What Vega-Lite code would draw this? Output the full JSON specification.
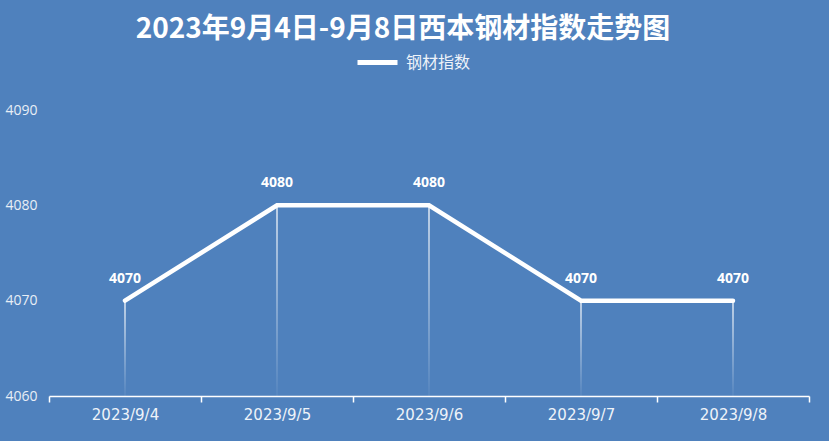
{
  "$schema": "https://vega.github.io/schema/vega-lite/v6.json",
  "autosize": "none",
  "width": 760,
  "height": 286,
  "padding": {"left": 49, "top": 110, "right": 20, "bottom": 45},
  "background": "#4f81bd",
  "title": {
    "text": "2023年9月4日-9月8日西本钢材指数走势图",
    "font": "Noto Sans CJK SC",
    "fontWeight": "bold",
    "fontSize": 28,
    "color": "#ffffff",
    "anchor": "middle",
    "dx": -26,
    "offset": -4
  },
  "data": {
    "values": [
      {"date": "2023/9/4", "value": 4070, "series": "钢材指数"},
      {"date": "2023/9/5", "value": 4080, "series": "钢材指数"},
      {"date": "2023/9/6", "value": 4080, "series": "钢材指数"},
      {"date": "2023/9/7", "value": 4070, "series": "钢材指数"},
      {"date": "2023/9/8", "value": 4070, "series": "钢材指数"}
    ]
  },
  "encoding": {
    "x": {
      "field": "date",
      "type": "ordinal",
      "sort": null,
      "scale": {"type": "band", "paddingInner": 0, "paddingOuter": 0},
      "axis": {
        "title": null,
        "labelAngle": 0,
        "tickBand": "extent",
        "domainColor": "#ffffff",
        "domainWidth": 1.5,
        "tickColor": "#ffffff",
        "tickWidth": 1.5,
        "tickSize": 6,
        "labelColor": "#eef3f9",
        "labelFont": "DejaVu Sans",
        "labelFontSize": 15,
        "labelPadding": 5,
        "grid": false
      }
    },
    "y": {
      "field": "value",
      "type": "quantitative",
      "scale": {"domain": [4060, 4090], "zero": false, "nice": false},
      "axis": {
        "title": null,
        "values": [4060, 4070, 4080, 4090],
        "format": "d",
        "domain": false,
        "ticks": false,
        "grid": false,
        "labelAlign": "left",
        "labelPadding": 44,
        "labelColor": "#e8eef6",
        "labelFont": "Open Sans",
        "labelFontSize": 14
      }
    }
  },
  "layer": [
    {
      "mark": {
        "type": "bar",
        "width": 1.5,
        "fill": {
          "gradient": "linear",
          "x1": 0, "y1": 0, "x2": 0, "y2": 1,
          "stops": [
            {"offset": 0, "color": "rgba(255,255,255,0.85)"},
            {"offset": 1, "color": "rgba(255,255,255,0.05)"}
          ]
        }
      },
      "encoding": {
        "y": {"field": "value", "type": "quantitative"},
        "y2": {"datum": 4060}
      }
    },
    {
      "mark": {"type": "line", "strokeWidth": 4.5, "color": "#ffffff", "strokeCap": "round"},
      "encoding": {
        "stroke": {
          "field": "series",
          "type": "nominal",
          "scale": {"range": ["#ffffff"]},
          "legend": {
            "title": null,
            "orient": "none",
            "legendX": 306,
            "legendY": -70,
            "symbolType": "stroke",
            "symbolSize": 1600,
            "symbolStrokeWidth": 5,
            "labelColor": "#eef3f9",
            "labelFont": "Noto Sans CJK SC",
            "labelFontSize": 16,
            "labelOffset": 6
          }
        }
      }
    },
    {
      "mark": {
        "type": "text",
        "color": "#ffffff",
        "font": "Open Sans",
        "fontWeight": "bold",
        "fontSize": 14,
        "dy": -22,
        "baseline": "middle"
      },
      "encoding": {
        "text": {"field": "value", "type": "quantitative", "format": "d"}
      }
    }
  ],
  "config": {"view": {"stroke": null}}
}
